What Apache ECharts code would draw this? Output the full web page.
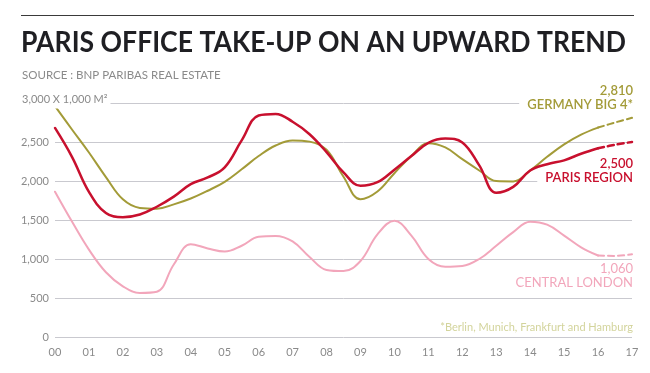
<!DOCTYPE html>
<html><head><meta charset="utf-8">
<script src="https://cdn.jsdelivr.net/npm/echarts@6/dist/echarts.min.js"></script>
<style>html,body{margin:0;padding:0;background:#fff}#c{width:650px;height:373px}</style>
</head><body><div id="c"></div>
<script>
// x positions in years since 2000 (read every half year from the picture)
var xs = [0,0.5,1,1.5,2,2.5,3,3.5,4,4.5,5,5.5,6,6.5,7,7.5,8,8.5,9,9.5,10,10.5,11,11.5,12,12.5,13,13.5,14,14.5,15,15.5,16,16.5,17];
var xTickLabels = ['00','01','02','03','04','05','06','07','08','09','10','11','12','13','14','15','16','17'];
var germany = [2960,2660,2365,2050,1765,1655,1645,1700,1775,1875,1990,2150,2320,2455,2520,2505,2400,2055,1765,1865,2100,2320,2485,2430,2280,2135,2000,1995,2135,2310,2470,2595,2685,2750,2810];
var paris   = [2680,2310,1860,1590,1535,1570,1670,1800,1960,2045,2175,2520,2840,2860,2760,2600,2370,2110,1940,1985,2145,2320,2490,2545,2495,2200,1850,1925,2135,2215,2265,2350,2420,2465,2500];
var london  = [1863,1480,1120,830,650,565,580,930,1190,1135,1095,1170,1285,1295,1225,1025,860,845,975,1315,1490,1300,1000,900,910,1000,1170,1345,1478,1440,1300,1150,1045,1040,1060];
var dashFrom = 16; // projection segment starts here
var yTicks = [0,500,1000,1500,2000,2500,3000];

function pairs(a, lo, hi){ var r=[]; for (var i=0;i<xs.length;i++){ if (xs[i]>=lo && xs[i]<=hi) r.push([xs[i], a[i]]); } return r; }
function fmt(v){ return v.toLocaleString('en-US'); }
function last(a){ return a[a.length-1]; }

var C_DE = '#a39b38', C_PA = '#c8102e', C_LO = '#f2a6bb';
var font = 'Lato, "Open Sans", sans-serif';
var title = 'PARIS OFFICE TAKE-UP ON AN UPWARD TREND';
var ctx = document.createElement('canvas').getContext('2d');
ctx.font = 'bold 28px ' + font;
var titleScale = 605 / ctx.measureText(title).width;

var chart = echarts.init(document.getElementById('c'));
function mk(name, data, color, w, type){
  return { name:name, type:'line', data:data, smooth:0.4, symbol:'none',
    lineStyle:{color:color, width:w, type:type, cap:'round', join:'round'}, z: 3, animation:false };
}
chart.setOption({
  animation:false,
  grid:{left:55, right:18, top:103, bottom:36},
  xAxis:{type:'value', min:0, max:17, interval:1,
    axisLine:{show:false}, axisTick:{show:false},
    axisLabel:{color:'#8a8a8a', fontSize:11, fontFamily:font, margin:10,
      formatter:function(v){ return xTickLabels[Math.round(v)]; }},
    splitLine:{show:false}},
  yAxis:{type:'value', min:yTicks[0], max:yTicks[yTicks.length-1], interval:500,
    axisLine:{show:false}, axisTick:{show:false},
    axisLabel:{color:'#8a8a8a', fontSize:11, fontFamily:font, margin:6,
      formatter:function(v){ return v===3000 ? '' : fmt(v); }},
    splitLine:{lineStyle:{color:'#c9c9cf', width:1}}},
  series:[
    mk('Central London', pairs(london,0,dashFrom), C_LO, 2, 'solid'),
    mk('Central London proj', pairs(london,dashFrom,17), C_LO, 2, [6,4]),
    mk('Germany Big 4', pairs(germany,0,dashFrom), C_DE, 2, 'solid'),
    mk('Germany Big 4 proj', pairs(germany,dashFrom,17), C_DE, 2, [6,4]),
    mk('Paris Region', pairs(paris,0,dashFrom), C_PA, 2.5, 'solid'),
    mk('Paris Region proj', pairs(paris,dashFrom,17), C_PA, 2.5, [6,4])
  ],
  graphic:[
    {type:'line', shape:{x1:21,y1:15.5,x2:634,y2:15.5}, style:{stroke:'#3a3a3a', lineWidth:1.2}, z:10},
    {type:'text', x:21, y:43, scaleX:titleScale, style:{text:title, fill:'#1f1f23',
      font:'bold 28px '+font, verticalAlign:'middle'}, z:10},
    {type:'text', x:22, y:75, style:{text:'SOURCE : BNP PARIBAS REAL ESTATE', fill:'#8a8a8a',
      font:'11.5px '+font, verticalAlign:'middle'}, z:10},
    {type:'text', x:21, y:99, style:{text:'3,000 X 1,000 M\u00b2', fill:'#8a8a8a', font:'11px '+font,
      verticalAlign:'middle', backgroundColor:'#fff', padding:[3,3,5,1]}, z:10},
    {type:'text', x:633, y:91, style:{text:fmt(last(germany)), fill:C_DE, font:'600 13px '+font,
      align:'right', verticalAlign:'middle'}, z:10},
    {type:'text', x:633, y:105, style:{text:'GERMANY BIG 4*', fill:C_DE, font:'600 13px '+font,
      align:'right', verticalAlign:'middle', backgroundColor:'#fff', padding:[1,0,1,8]}, z:10},
    {type:'text', x:633, y:164, style:{text:fmt(last(paris)), fill:C_PA, font:'600 13px '+font,
      align:'right', verticalAlign:'middle'}, z:10},
    {type:'text', x:633, y:178, style:{text:'PARIS REGION', fill:C_PA, font:'600 13px '+font,
      align:'right', verticalAlign:'middle', backgroundColor:'#fff', padding:[2,0,2,8]}, z:10},
    {type:'text', x:633, y:269, style:{text:fmt(last(london)), fill:C_LO, font:'13px '+font,
      align:'right', verticalAlign:'middle'}, z:10},
    {type:'text', x:633, y:283, style:{text:'CENTRAL LONDON', fill:C_LO, font:'13px '+font,
      align:'right', verticalAlign:'middle'}, z:10},
    {type:'text', x:633, y:327, style:{text:'*Berlin, Munich, Frankfurt and Hamburg', fill:'#d3d49c',
      font:'11px '+font, align:'right', verticalAlign:'middle'}, z:10}
  ]
});
</script></body></html>
